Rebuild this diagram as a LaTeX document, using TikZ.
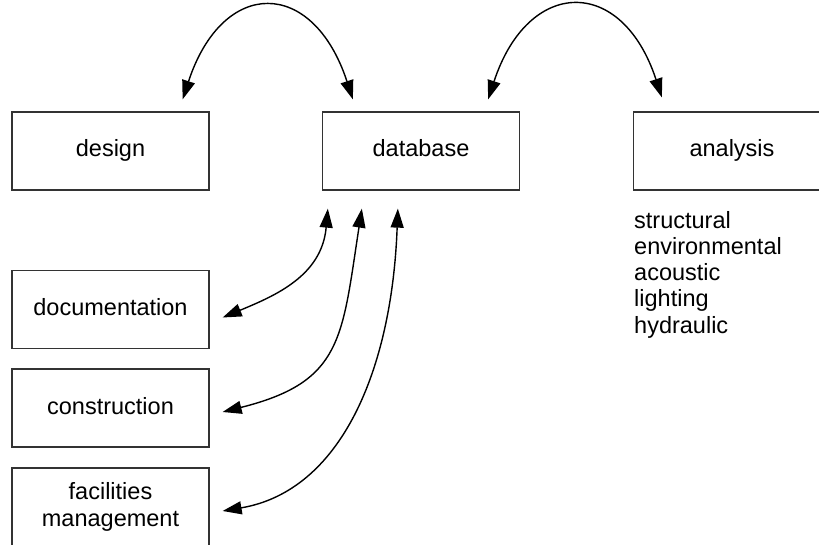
\documentclass[tikz,border=0pt]{standalone}
\usepackage{fontspec}
\setmainfont{Liberation Sans}
\usepackage{tikz}
\usetikzlibrary{arrows.meta}

\begin{document}
			\begin{tikzpicture}[x=1pt,y=1pt,
				box/.style={draw=black!80, line width=1.3pt, minimum width=197pt, minimum height=78pt,
					inner sep=0pt, align=center, font=\fontsize{23.5}{27}\selectfont},
				oneline/.style={box, text height=16pt, text depth=4pt},
				link/.style={{Triangle[length=19pt,width=13pt]}-{Triangle[length=19pt,width=13pt]}, line width=1.4pt}]
				\useasboundingbox (0,0) rectangle (819,544);
				% nodes
				\node[oneline] (design)   at (110.5,393) {design};
				\node[oneline] (database) at (421,393)   {database};
				\node[oneline] (analysis) at (732,393)   {analysis};
				\node[oneline] (documentation) at (110.5,234.5) {documentation};
				\node[oneline] (construction)  at (110.5,136)   {construction};
				\node[box] (facilities)    at (110.5,37)    {facilities\\management};
				\node[anchor=north west, inner sep=0pt, align=left, font=\fontsize{23.5}{26.25}\selectfont]
					(kinds) at (634,333) {structural\\environmental\\acoustic\\lighting\\hydraulic};
				% arcs on top
				\draw[link] ([xshift=-27pt,yshift=12pt]design.north east)
					.. controls +(40pt,122pt) and +(-40pt,122pt) .. ([xshift=31pt,yshift=12pt]database.north west);
				\draw[link] ([xshift=-32pt,yshift=12pt]database.north east)
					.. controls +(40pt,122pt) and +(-40pt,122pt) .. ([xshift=29pt,yshift=14pt]analysis.north west);
				% arcs below
				\draw[link] ([xshift=6pt,yshift=-18pt]database.south west)
					.. controls +(-6pt,-67pt) and +(53pt,22pt) .. ([xshift=13pt,yshift=-8pt]documentation.east);
				\draw[link] ([xshift=40pt,yshift=-18pt]database.south west)
					.. controls +(-20pt,-130pt) and +(120pt,30pt) .. ([xshift=13pt,yshift=-4pt]construction.east);
				\draw[link] ([xshift=76pt,yshift=-18pt]database.south west)
					.. controls +(-6pt,-162pt) and +(118pt,20pt) .. ([xshift=13pt,yshift=-4pt]facilities.east);
			\end{tikzpicture}
\end{document}
